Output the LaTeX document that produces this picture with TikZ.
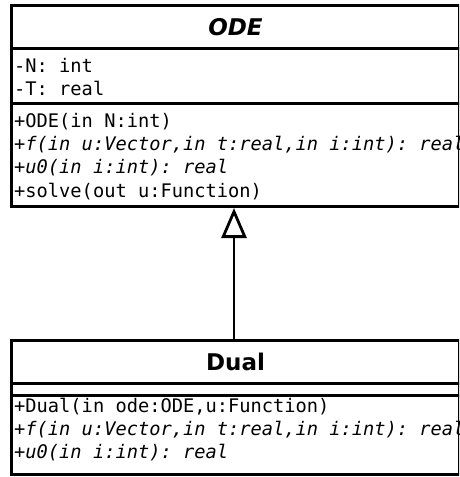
\documentclass[tikz,border=0pt]{standalone}
\usepackage{fontspec}
\setsansfont{DejaVu Sans}
\setmonofont{DejaVu Sans Mono}
\usetikzlibrary{arrows.meta}
\tikzstyle{ClassPart}=[rectangle, draw=black, line width=3pt, minimum width=448pt, inner sep=0pt]
\tikzstyle{ClassName}=[ClassPart, font=\sffamily\bfseries\fontsize{23}{26}\selectfont]
\tikzstyle{Member}=[anchor=base west, inner sep=0pt, font=\ttfamily\fontsize{18.7}{23}\selectfont]
\tikzstyle{Abstract}=[Member, font=\ttfamily\itshape\fontsize{18.7}{23}\selectfont]
\tikzstyle{Inherit}=[-{Triangle[open, length=30pt, width=25pt]}, line width=2.8pt]

\begin{document}
\begin{tikzpicture}[x=1pt, y=-1pt]
\clip (0,0) rectangle (459,477);
\node[ClassName, minimum height=43pt](ODE) at (235.5,27) {\itshape ODE};
\node[ClassPart, minimum height=55pt](ODEattr) at (235.5,76) {};
\node[ClassPart, minimum height=103pt](ODEops) at (235.5,155) {};
\node[Member](odeN) at (14,72) {-N: int};
\node[Member](odeT) at (14,95) {-T: real};
\node[Member](odeCtor) at (14,127) {+ODE(in N:int)};
\node[Abstract](odeF) at (14,150) {+f(in u:Vector,in t:real,in i:int): real};
\node[Abstract](odeU) at (14,173) {+u0(in i:int): real};
\node[Member](odeSolve) at (14,197) {+solve(out u:Function)};

\node[ClassName, minimum height=42.6pt](Dual) at (235.5,362) {Dual};
\node[ClassPart, minimum height=11.7pt](Dualattr) at (235.5,389.2) {};
\node[ClassPart, minimum height=79.5pt](Dualops) at (235.5,434.75) {};
\node[Member](dualCtor) at (14,412) {+Dual(in ode:ODE,u:Function)};
\node[Abstract](dualF) at (14,435) {+f(in u:Vector,in t:real,in i:int): real};
\node[Abstract](dualU) at (14,458) {+u0(in i:int): real};

\draw[Inherit](Dual.north -| 234,0) -- (ODEops.south -| 234,0);
\end{tikzpicture}
\end{document}
